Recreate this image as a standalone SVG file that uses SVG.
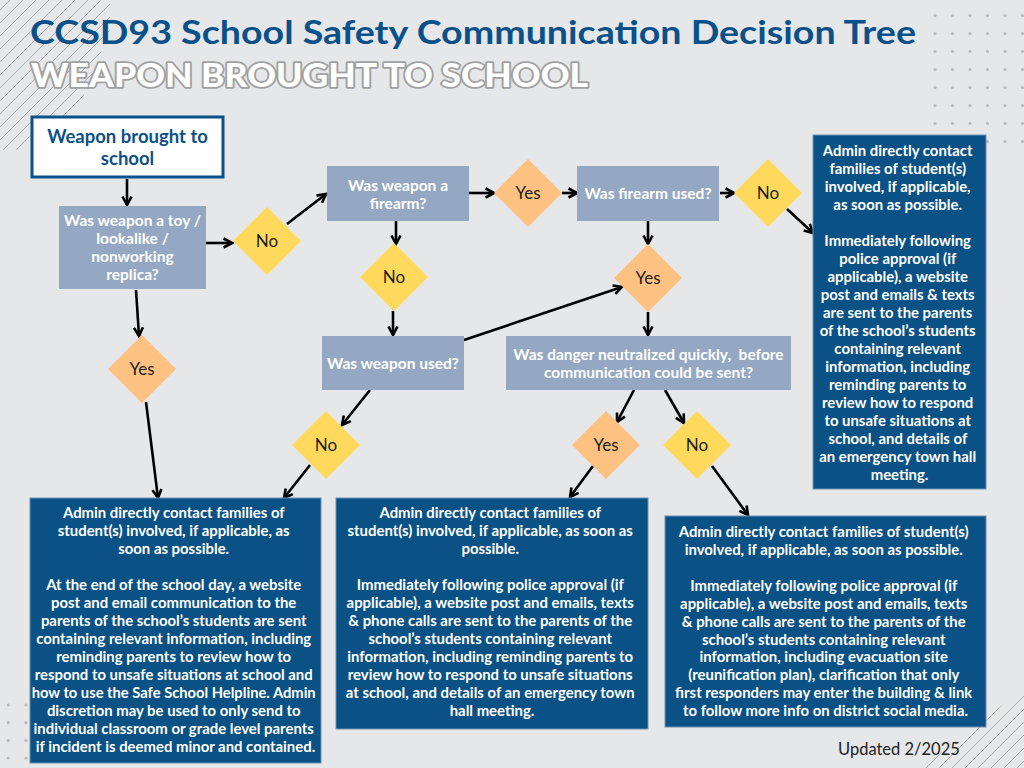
<svg xmlns="http://www.w3.org/2000/svg" width="1024" height="768" viewBox="0 0 1024 768">
<defs>
<style>
.bg{fill:#e6e7e9}
.deco{stroke:#a9abae;stroke-width:1;fill:none}
.dot{fill:#b9babd}
.q{fill:#94a8c3}
.out{fill:#0a5286;stroke:#6f8fb2;stroke-width:1}
.yes{fill:#fdc182}
.no{fill:#ffd95c}
.qt{font-family:Lato,"Liberation Sans",sans-serif;font-weight:700;font-size:15.5px;fill:#ffffff;text-anchor:middle}
.ot{font-family:Lato,"Liberation Sans",sans-serif;font-weight:700;font-size:14.9px;fill:#ffffff;text-anchor:middle}
.dt{font-family:Lato,"Liberation Sans",sans-serif;font-weight:400;font-size:17px;fill:#1d1d1d;text-anchor:middle}
.conn line{stroke:#000;stroke-width:2.6;fill:none;marker-end:url(#ah)}
</style>
<marker id="ah" viewBox="0 0 12 12" refX="10.5" refY="6" markerWidth="12" markerHeight="12" markerUnits="userSpaceOnUse" orient="auto">
<path d="M2,1.5 L10.5,6 L2,10.5" fill="none" stroke="#000" stroke-width="2.6" stroke-linejoin="miter"/>
</marker>
<clipPath id="cTL"><polygon points="0,0 110,0 110,30 80,105 20,150 0,150"/></clipPath>
<clipPath id="cBR"><polygon points="1024,688 1024,768 922,768"/></clipPath>
</defs>
<rect class="bg" x="0" y="0" width="1024" height="768"/>

<g id="decor">
<g clip-path="url(#cTL)" class="deco">
<line x1="0" y1="10" x2="10" y2="0"/><line x1="0" y1="23" x2="23" y2="0"/><line x1="0" y1="36" x2="36" y2="0"/>
<line x1="0" y1="49" x2="49" y2="0"/><line x1="0" y1="62" x2="62" y2="0"/><line x1="0" y1="75" x2="75" y2="0"/>
<line x1="0" y1="88" x2="88" y2="0"/><line x1="0" y1="101" x2="101" y2="0"/><line x1="0" y1="114" x2="114" y2="0"/>
<line x1="0" y1="127" x2="127" y2="0"/><line x1="0" y1="140" x2="140" y2="0"/><line x1="0" y1="153" x2="153" y2="0"/>
<line x1="0" y1="166" x2="166" y2="0"/><line x1="0" y1="179" x2="179" y2="0"/><line x1="0" y1="192" x2="192" y2="0"/>
<line x1="0" y1="205" x2="205" y2="0"/>
</g>
<g clip-path="url(#cBR)" class="deco">
<line x1="900" y1="768" x2="1024" y2="644"/><line x1="913" y1="768" x2="1037" y2="644"/><line x1="926" y1="768" x2="1050" y2="644"/>
<line x1="939" y1="768" x2="1063" y2="644"/><line x1="952" y1="768" x2="1076" y2="644"/><line x1="965" y1="768" x2="1089" y2="644"/>
<line x1="978" y1="768" x2="1102" y2="644"/><line x1="991" y1="768" x2="1115" y2="644"/><line x1="1004" y1="768" x2="1128" y2="644"/>
<line x1="1017" y1="768" x2="1141" y2="644"/>
</g>
<g class="dot">
<circle cx="935" cy="15.5" r="1.6"/><circle cx="952.5" cy="15.5" r="1.6"/><circle cx="970" cy="15.5" r="1.6"/><circle cx="987.5" cy="15.5" r="1.6"/><circle cx="1005" cy="15.5" r="1.6"/><circle cx="1022.5" cy="15.5" r="1.6"/>
<circle cx="935" cy="33.5" r="1.6"/><circle cx="952.5" cy="33.5" r="1.6"/><circle cx="970" cy="33.5" r="1.6"/><circle cx="987.5" cy="33.5" r="1.6"/><circle cx="1005" cy="33.5" r="1.6"/><circle cx="1022.5" cy="33.5" r="1.6"/>
<circle cx="935" cy="51.5" r="1.6"/><circle cx="952.5" cy="51.5" r="1.6"/><circle cx="970" cy="51.5" r="1.6"/><circle cx="987.5" cy="51.5" r="1.6"/><circle cx="1005" cy="51.5" r="1.6"/><circle cx="1022.5" cy="51.5" r="1.6"/>
<circle cx="935" cy="69.5" r="1.6"/><circle cx="952.5" cy="69.5" r="1.6"/><circle cx="970" cy="69.5" r="1.6"/><circle cx="987.5" cy="69.5" r="1.6"/><circle cx="1005" cy="69.5" r="1.6"/><circle cx="1022.5" cy="69.5" r="1.6"/>
<circle cx="935" cy="87.5" r="1.6"/><circle cx="952.5" cy="87.5" r="1.6"/><circle cx="970" cy="87.5" r="1.6"/><circle cx="987.5" cy="87.5" r="1.6"/><circle cx="1005" cy="87.5" r="1.6"/><circle cx="1022.5" cy="87.5" r="1.6"/>
<circle cx="935" cy="105.5" r="1.6"/><circle cx="952.5" cy="105.5" r="1.6"/><circle cx="970" cy="105.5" r="1.6"/><circle cx="987.5" cy="105.5" r="1.6"/><circle cx="1005" cy="105.5" r="1.6"/><circle cx="1022.5" cy="105.5" r="1.6"/>
<circle cx="935" cy="123.5" r="1.6"/><circle cx="952.5" cy="123.5" r="1.6"/><circle cx="970" cy="123.5" r="1.6"/><circle cx="987.5" cy="123.5" r="1.6"/><circle cx="1005" cy="123.5" r="1.6"/><circle cx="1022.5" cy="123.5" r="1.6"/>
<circle cx="987.5" cy="141.5" r="1.6"/><circle cx="1005" cy="141.5" r="1.6"/><circle cx="1022.5" cy="141.5" r="1.6"/>
<circle cx="8.3" cy="705" r="1.6"/><circle cx="26" cy="705" r="1.6"/>
<circle cx="8.3" cy="722.7" r="1.6"/><circle cx="26" cy="722.7" r="1.6"/>
<circle cx="8.3" cy="740.3" r="1.6"/><circle cx="26" cy="740.3" r="1.6"/>
<circle cx="8.3" cy="758" r="1.6"/><circle cx="26" cy="758" r="1.6"/>
</g>
</g>

<g id="title">
<text x="30" y="44" font-family="Lato,'Liberation Sans',sans-serif" font-weight="700" font-size="32" fill="#0b5189" textLength="886" lengthAdjust="spacingAndGlyphs">CCSD93 School Safety Communication Decision Tree</text>
<text x="31" y="87" font-family="Lato,'Liberation Sans',sans-serif" font-weight="900" font-size="32" fill="#ffffff" stroke="#a0a0a0" stroke-width="3.5" paint-order="stroke" stroke-linejoin="round" textLength="557" lengthAdjust="spacingAndGlyphs">WEAPON BROUGHT TO SCHOOL</text>
</g>

<g id="connectors" class="conn">
<line x1="127" y1="179" x2="127" y2="205"/>
<line x1="206" y1="243" x2="232" y2="243"/>
<line x1="287" y1="224" x2="326" y2="194"/>
<line x1="136" y1="290" x2="139" y2="336"/>
<line x1="146" y1="402" x2="158" y2="498"/>
<line x1="469" y1="193" x2="494" y2="193"/>
<line x1="562" y1="193" x2="577" y2="193"/>
<line x1="720" y1="193" x2="734" y2="193"/>
<line x1="787" y1="209" x2="813" y2="233"/>
<line x1="396" y1="221" x2="396" y2="244"/>
<line x1="393" y1="311" x2="393" y2="335"/>
<line x1="464" y1="340" x2="622" y2="287"/>
<line x1="648" y1="221" x2="648" y2="244"/>
<line x1="648" y1="312" x2="648" y2="335"/>
<line x1="370" y1="390" x2="342" y2="425"/>
<line x1="310" y1="465" x2="284" y2="498"/>
<line x1="634" y1="390" x2="617" y2="422"/>
<line x1="665" y1="390" x2="684" y2="423"/>
<line x1="593" y1="466" x2="570" y2="497"/>
<line x1="712" y1="466" x2="748" y2="515"/>
</g>

<g id="start">
<rect x="32" y="117" width="191" height="60" fill="#ffffff" stroke="#0b5189" stroke-width="3"/>
<text font-family="Lato,'Liberation Sans',sans-serif" font-weight="700" font-size="18.5" fill="#0b5189" text-anchor="middle"><tspan x="127.5" y="143">Weapon brought to</tspan><tspan x="127.5" y="165">school</tspan></text>
</g>

<g id="q-toy">
<rect class="q" x="59" y="206" width="147" height="83"/>
<text class="qt"><tspan x="132.5" y="225.5">Was weapon a toy /</tspan><tspan x="132.5" y="243.5">lookalike /</tspan><tspan x="132.5" y="262">nonworking</tspan><tspan x="132.5" y="280">replica?</tspan></text>
</g>

<g id="q-firearm">
<rect class="q" x="327" y="166" width="142" height="55"/>
<text class="qt"><tspan x="398" y="190.5">Was weapon a</tspan><tspan x="398" y="208.5">firearm?</tspan></text>
</g>

<g id="q-firearm-used">
<rect class="q" x="577" y="166" width="142" height="55"/>
<text class="qt"><tspan x="648" y="198.5">Was firearm used?</tspan></text>
</g>

<g id="q-weapon-used">
<rect class="q" x="322" y="336" width="142" height="54"/>
<text class="qt"><tspan x="393" y="368.5">Was weapon used?</tspan></text>
</g>

<g id="q-danger">
<rect class="q" x="506" y="336" width="285" height="54"/>
<text class="qt"><tspan x="648.5" y="359.5" xml:space="preserve">Was danger neutralized quickly,  before</tspan><tspan x="648.5" y="377.5">communication could be sent?</tspan></text>
</g>

<g id="d-toy-no"><polygon class="no" points="267,207 301,241 267,275 233,241"/><text class="dt" x="267" y="247">No</text></g>
<g id="d-toy-yes"><polygon class="yes" points="142,335 176,369 142,403 108,369"/><text class="dt" x="142" y="375">Yes</text></g>
<g id="d-firearm-yes"><polygon class="yes" points="528,159 562,193 528,227 494,193"/><text class="dt" x="528" y="199">Yes</text></g>
<g id="d-used-no"><polygon class="no" points="768,159 802,193 768,227 734,193"/><text class="dt" x="768" y="199">No</text></g>
<g id="d-firearm-no"><polygon class="no" points="394,243 428,277 394,311 360,277"/><text class="dt" x="394" y="283">No</text></g>
<g id="d-used-yes"><polygon class="yes" points="648,244 682,278 648,312 614,278"/><text class="dt" x="648" y="284">Yes</text></g>
<g id="d-weapon-no"><polygon class="no" points="326,411 360,445 326,479 292,445"/><text class="dt" x="326" y="451">No</text></g>
<g id="d-danger-yes"><polygon class="yes" points="606,411 640,445 606,479 572,445"/><text class="dt" x="606" y="451">Yes</text></g>
<g id="d-danger-no"><polygon class="no" points="697,411 731,445 697,479 663,445"/><text class="dt" x="697" y="451">No</text></g>

<g id="out-right">
<rect class="out" x="813" y="135" width="173" height="354"/>
<text class="ot">
<tspan x="899.5" y="156">Admin directly contact</tspan>
<tspan x="899.5" y="174">families of student(s)</tspan>
<tspan x="899.5" y="192">involved, if applicable,</tspan>
<tspan x="899.5" y="210">as soon as possible.</tspan>
<tspan x="899.5" y="246">Immediately following</tspan>
<tspan x="899.5" y="264">police approval (if</tspan>
<tspan x="899.5" y="282">applicable), a website</tspan>
<tspan x="899.5" y="300">post and emails &amp; texts</tspan>
<tspan x="899.5" y="318">are sent to the parents</tspan>
<tspan x="899.5" y="336">of the school’s students</tspan>
<tspan x="899.5" y="354">containing relevant</tspan>
<tspan x="899.5" y="372">information, including</tspan>
<tspan x="899.5" y="390">reminding parents to</tspan>
<tspan x="899.5" y="408">review how to respond</tspan>
<tspan x="899.5" y="426">to unsafe situations at</tspan>
<tspan x="899.5" y="444">school, and details of</tspan>
<tspan x="899.5" y="462">an emergency town hall</tspan>
<tspan x="899.5" y="480">meeting.</tspan>
</text>
</g>

<g id="out-left">
<rect class="out" x="30" y="498" width="291" height="265"/>
<text class="ot">
<tspan x="175.5" y="518">Admin directly contact families of</tspan>
<tspan x="175.5" y="536">student(s) involved, if applicable, as</tspan>
<tspan x="175.5" y="554">soon as possible.</tspan>
<tspan x="175.5" y="590">At the end of the school day, a website</tspan>
<tspan x="175.5" y="608">post and email communication to the</tspan>
<tspan x="175.5" y="626">parents of the school’s students are sent</tspan>
<tspan x="175.5" y="644">containing relevant information, including</tspan>
<tspan x="175.5" y="662">reminding parents to review how to</tspan>
<tspan x="175.5" y="680" textLength="278" lengthAdjust="spacingAndGlyphs">respond to unsafe situations at school and</tspan>
<tspan x="175.5" y="698" textLength="284" lengthAdjust="spacingAndGlyphs">how to use the Safe School Helpline. Admin</tspan>
<tspan x="175.5" y="716">discretion may be used to only send to</tspan>
<tspan x="175.5" y="734">individual classroom or grade level parents</tspan>
<tspan x="175.5" y="752">if incident is deemed minor and contained.</tspan>
</text>
</g>

<g id="out-middle">
<rect class="out" x="336" y="498" width="312" height="231"/>
<text class="ot">
<tspan x="492" y="518">Admin directly contact families of</tspan>
<tspan x="492" y="536">student(s) involved, if applicable, as soon as</tspan>
<tspan x="492" y="554">possible.</tspan>
<tspan x="492" y="590">Immediately following police approval (if</tspan>
<tspan x="492" y="608">applicable), a website post and emails, texts</tspan>
<tspan x="492" y="626">&amp; phone calls are sent to the parents of the</tspan>
<tspan x="492" y="644">school’s students containing relevant</tspan>
<tspan x="492" y="662">information, including reminding parents to</tspan>
<tspan x="492" y="680">review how to respond to unsafe situations</tspan>
<tspan x="492" y="698">at school, and details of an emergency town</tspan>
<tspan x="492" y="716">hall meeting.</tspan>
</text>
</g>

<g id="out-bottom-right">
<rect class="out" x="665" y="516" width="321" height="211"/>
<text class="ot">
<tspan x="825.5" y="536.5">Admin directly contact families of student(s)</tspan>
<tspan x="825.5" y="554.5">involved, if applicable, as soon as possible.</tspan>
<tspan x="825.5" y="590.5">Immediately following police approval (if</tspan>
<tspan x="825.5" y="608.5">applicable), a website post and emails, texts</tspan>
<tspan x="825.5" y="626.5">&amp; phone calls are sent to the parents of the</tspan>
<tspan x="825.5" y="644.5">school’s students containing relevant</tspan>
<tspan x="825.5" y="662">information, including evacuation site</tspan>
<tspan x="825.5" y="680">(reunification plan), clarification that only</tspan>
<tspan x="825.5" y="698">first responders may enter the building &amp; link</tspan>
<tspan x="825.5" y="716">to follow more info on district social media.</tspan>
</text>
</g>

<g id="updated">
<text x="838" y="755" font-family="Lato,'Liberation Sans',sans-serif" font-size="16.5" fill="#222222">Updated 2/2025</text>
</g>
</svg>
